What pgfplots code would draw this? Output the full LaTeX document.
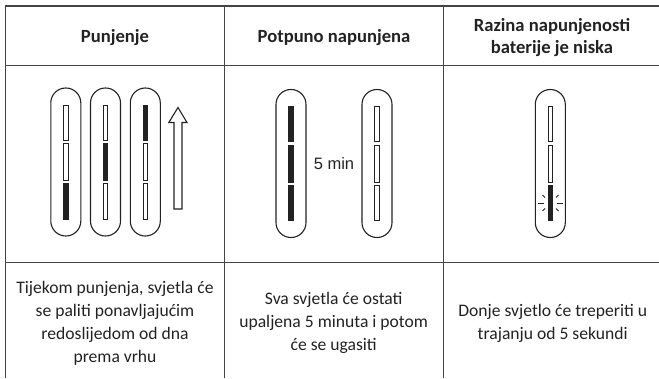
\documentclass[border=0pt]{standalone}
\usepackage{pgfplots}
\pgfplotsset{compat=1.18}
\usepackage{fontspec}
\setmainfont{Carlito}
\newfontfamily\arialf{Liberation Sans}
\definecolor{ink}{HTML}{222222}
\definecolor{rulec}{HTML}{444444}
\newcommand{\seg}[5]{% cx, y0, y1, filled?, w
  \addplot[draw=ink,line width=0.9pt,fill=#4,forget plot] coordinates {(#1-#5,#2)(#1+#5,#2)(#1+#5,#3)(#1-#5,#3)} --cycle;}
\newcommand{\capsule}[3]{% cx, ytop, ybot
  \addplot[draw=ink,line width=1.1pt,rounded corners=14.9pt,forget plot] coordinates {(#1-15,#2)(#1+15,#2)(#1+15,#3)(#1-15,#3)} --cycle;}
\newcommand{\battery}[5]{% cx, offset, fill top, mid, bot
  \capsule{#1}{88+#2}{236+#2}
  \seg{#1}{105+#2}{140+#2}{#3}{2.2}
  \seg{#1}{143.5+#2}{180.5+#2}{#4}{2.2}
  \seg{#1}{183.5+#2}{219+#2}{#5}{2.2}}
\newcommand{\hrul}[2]{\addplot[rulec,line width=#2,forget plot] coordinates {(5,#1)(659,#1)};}
\newcommand{\vrul}[1]{\addplot[rulec,line width=1pt,forget plot] coordinates {(#1,5.5)(#1,378)};}
\newcommand{\spark}[4]{\addplot[ink,line width=0.9pt,forget plot] coordinates {(#1,#2)(#3,#4)};}
\begin{document}
\begin{tikzpicture}
\begin{axis}[
  scale only axis,width=659pt,height=378pt,
  xmin=0,xmax=659,ymin=0,ymax=378,y dir=reverse,
  axis lines=none,clip=true,
]
\hrul{6}{1.1pt}
\hrul{65.5}{1.5pt}
\hrul{262.5}{1pt}
\vrul{5.5}
\vrul{224.3}
\vrul{443.3}
% charging column
\battery{65.8}{0}{white}{white}{ink}
\battery{105.5}{0}{white}{ink}{white}
\battery{145.3}{0}{ink}{white}{white}
\addplot[draw=ink,line width=1.1pt,fill=white,forget plot] coordinates {(174,209)(182,209)(182,122.5)(187,122.5)(178,107.5)(168.8,122.5)(174,122.5)} --cycle;
% fully charged column
\battery{291}{1.5}{ink}{ink}{ink}
\battery{377}{1.5}{white}{white}{white}
% low battery column
\battery{550.3}{1.5}{white}{white}{ink}
\spark{538.3}{203}{544}{203}
\spark{556.5}{203}{563}{203}
\spark{542.5}{195}{545}{197.5}
\spark{542.5}{211}{545}{208.5}
\spark{558.5}{195}{556}{197.5}
\spark{558.5}{211}{556}{208.5}
\node[font=\fontsize{18.6}{21.5}\bfseries\selectfont,text=ink] at (axis cs:115,37.5) {Punjenje};
\node[font=\fontsize{18.6}{21.5}\bfseries\selectfont,text=ink] at (axis cs:334,37.5) {Potpuno napunjena};
\node[font=\fontsize{18.6}{21.5}\bfseries\selectfont,text=ink,align=center] at (axis cs:552,37.5) {Razina napunjenosti\\baterije je niska};
\node[font=\arialf\fontsize{16.5}{19}\selectfont,text=ink] at (axis cs:334,163.5) {5 min};
\node[font=\fontsize{17.6}{23}\selectfont,text=ink,align=center] at (axis cs:115,323) {Tijekom punjenja, svjetla će\\se paliti ponavljajućim\\redoslijedom od dna\\prema vrhu};
\node[font=\fontsize{17.6}{23}\selectfont,text=ink,align=center] at (axis cs:333.7,323) {Sva svjetla će ostati\\upaljena 5 minuta i potom\\će se ugasiti};
\node[font=\fontsize{17.6}{23}\selectfont,text=ink,align=center] at (axis cs:552.7,323) {Donje svjetlo će treperiti u\\trajanju od 5 sekundi};
\end{axis}
\path (0,0) rectangle (659pt,378pt);
\end{tikzpicture}
\end{document}
